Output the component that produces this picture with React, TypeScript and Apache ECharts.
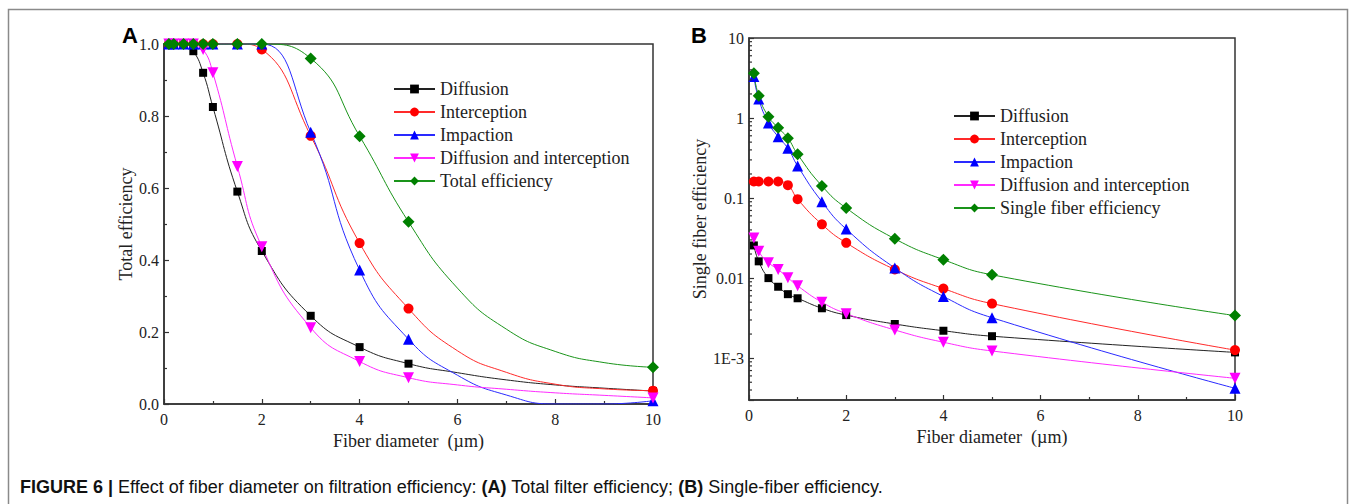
import React, { useEffect, useRef } from 'react';
import * as echarts from 'echarts';

// ---- data ----
const xPts = [0.1, 0.2, 0.4, 0.6, 0.8, 1, 1.5, 2, 3, 4, 5, 10];
// extra points (panel A) between 5 and 10 µm
const xCurveExtra = [6, 7, 8, 9];

// Panel A: total efficiency
const diffA = [1.0, 1.0, 1.0, 0.98, 0.92, 0.825, 0.59, 0.425, 0.245, 0.158, 0.112, 0.036];
const interA = [1.0, 1.0, 1.0, 1.0, 1.0, 1.0, 1.0, 0.985, 0.745, 0.447, 0.265, 0.037];
const impA = [1.0, 1.0, 1.0, 1.0, 1.0, 1.0, 1.0, 1.0, 0.755, 0.372, 0.18, 0.009];
const diInA = [1.0, 1.0, 1.0, 1.0, 0.985, 0.92, 0.66, 0.437, 0.212, 0.118, 0.073, 0.017];
const totalA = [1.0, 1.0, 1.0, 1.0, 1.0, 1.0, 1.0, 1.0, 0.96, 0.744, 0.506, 0.102];

const diffACurve = [0.087, 0.067, 0.053, 0.044];
const interACurve = [0.148, 0.088, 0.055, 0.042];
const impACurve = [0.08, 0.025, 0.0, 0.0];
const diInACurve = [0.053, 0.041, 0.031, 0.024];
const totalACurve = [0.322, 0.208, 0.146, 0.115];

// Panel B: single fiber efficiency (log scale)
const diffB = [0.0256, 0.0162, 0.01, 0.0078, 0.0063, 0.0056, 0.0042, 0.00345, 0.00267, 0.0022, 0.00188, 0.00118];
const interB = [0.161, 0.161, 0.161, 0.161, 0.145, 0.097, 0.047, 0.0276, 0.0128, 0.0074, 0.0048, 0.00126];
const impB = [3.3, 1.73, 0.87, 0.583, 0.418, 0.252, 0.09, 0.041, 0.0134, 0.0059, 0.0032, 0.00042];
const diInB = [0.0316, 0.0216, 0.0156, 0.0128, 0.0101, 0.008, 0.005, 0.0036, 0.00225, 0.00158, 0.00123, 0.00056];
const singleB = [3.64, 1.9, 1.04, 0.755, 0.561, 0.352, 0.142, 0.075, 0.031, 0.017, 0.011, 0.0034];

const namesA = ['Diffusion', 'Interception', 'Impaction', 'Diffusion and interception', 'Total efficiency'];
const namesB = ['Diffusion', 'Interception', 'Impaction', 'Diffusion and interception', 'Single fiber efficiency'];

const yTicksALabels = ['0.0', '0.2', '0.4', '0.6', '0.8', '1.0'];
const xTicksLabels = ['0', '2', '4', '6', '8', '10'];

const bMinMax = [0.0003, 10];

// ---- styles ----
const SERIF = "'Liberation Serif', 'Times New Roman', serif";
const SANS = "'Liberation Sans', Arial, sans-serif";
const styles = [
  { color: '#000000', line: '#222222', symbol: 'rect', size: 8, rotate: 0 },
  { color: '#ff0000', line: '#ff2a2a', symbol: 'circle', size: 10, rotate: 0 },
  { color: '#0000ff', line: '#2a2aff', symbol: 'triangle', size: 11, rotate: 0 },
  { color: '#ff00ff', line: '#ff2aff', symbol: 'triangle', size: 11, rotate: 180 },
  { color: '#008000', line: '#1a941a', symbol: 'diamond', size: 12, rotate: 0 },
];

function pairs(xs: number[], ys: number[]) {
  return xs.map((x, i) => [x, ys[i]]);
}
function mergeCurve(xs: number[], ys: number[], cx: number[], cy: number[]) {
  return pairs(xs, ys).concat(pairs(cx, cy)).sort((a, b) => a[0] - b[0]);
}

function buildSeries(names: string[], markers: number[][], curves: number[][][], gi: number) {
  const lines = names.map((n, i) => ({
    type: 'line',
    name: n,
    xAxisIndex: gi,
    yAxisIndex: gi,
    data: curves[i],
    smooth: 0.5,
    showSymbol: false,
    symbol: styles[i].symbol,
    symbolRotate: styles[i].rotate,
    symbolSize: styles[i].size,
    itemStyle: { color: styles[i].color },
    lineStyle: { color: styles[i].line, width: 1 },
    silent: true,
    clip: true,
    z: 2,
  }));
  const pts = names.map((n, i) => ({
    type: 'scatter',
    name: n,
    xAxisIndex: gi,
    yAxisIndex: gi,
    data: pairs(xPts, markers[i]),
    symbol: styles[i].symbol,
    symbolRotate: styles[i].rotate,
    symbolSize: styles[i].size,
    itemStyle: { color: styles[i].color, opacity: 1 },
    silent: true,
    z: 3,
  }));
  return [...lines, ...pts];
}

function minorLogValues() {
  const out: number[] = [];
  for (let d = -4; d <= 0; d++) {
    for (let k = 2; k <= 9; k++) {
      const v = k * Math.pow(10, d);
      if (v > bMinMax[0] * 1.01 && v < bMinMax[1]) out.push(v);
    }
  }
  return out;
}

const axisLineStyle = { lineStyle: { color: '#333', width: 1.5 } };

function xAxis(gi: number) {
  return {
    type: 'value',
    gridIndex: gi,
    min: 0,
    max: 10,
    interval: 2,
    name: 'Fiber diameter  (\u00b5m)',
    nameLocation: 'middle',
    nameGap: 22,
    nameTextStyle: { fontFamily: SERIF, fontSize: 18, color: '#222' },
    axisLine: axisLineStyle,
    axisTick: { inside: true, length: 5, lineStyle: { color: '#333', width: 1.2 } },
    minorTick: { show: true, splitNumber: 2, length: 3, lineStyle: { color: '#333', width: 1.2 } },
    splitLine: { show: false },
    minorSplitLine: { show: false },
    axisLabel: {
      fontFamily: SERIF,
      fontSize: 16,
      color: '#222',
      margin: 7,
      formatter: (v: number) => xTicksLabels[Math.round(v / 2)] ?? String(v),
    },
  };
}

export default function App() {
  const ref = useRef<HTMLDivElement>(null);
  useEffect(() => {
    if (!ref.current) return;
    const chart = echarts.init(ref.current, null, { renderer: 'svg' });

    const curvesA = [
      mergeCurve(xPts, diffA, xCurveExtra, diffACurve),
      mergeCurve(xPts, interA, xCurveExtra, interACurve),
      mergeCurve(xPts, impA, xCurveExtra, impACurve),
      mergeCurve(xPts, diInA, xCurveExtra, diInACurve),
      mergeCurve(xPts, totalA, xCurveExtra, totalACurve),
    ];
    const marksB = [diffB, interB, impB, diInB, singleB];
    const curvesB = marksB.map((m) => pairs(xPts, m));

    const seriesA = buildSeries(namesA, [diffA, interA, impA, diInA, totalA], curvesA, 0);
    const seriesB = buildSeries(namesB, marksB, curvesB, 1);

    const minorSeries = {
      type: 'custom',
      xAxisIndex: 1,
      yAxisIndex: 1,
      silent: true,
      data: minorLogValues().map((v) => [0, v]),
      renderItem: (params: any, api: any) => {
        const p = api.coord([0, api.value(1)]);
        return {
          type: 'line',
          shape: { x1: p[0], y1: p[1], x2: p[0] + 3, y2: p[1] },
          style: { stroke: '#333', lineWidth: 1.2 },
        };
      },
      z: 4,
    };

    const legendCommon = {
      orient: 'vertical',
      itemWidth: 41,
      itemHeight: 11,
      itemGap: 5,
      padding: 0,
      selectedMode: false,
      textStyle: { fontFamily: SERIF, fontSize: 18, color: '#222', lineHeight: 18 },
    };

    const option: any = {
      animation: false,
      backgroundColor: '#ffffff',
      grid: [
        { left: 164, top: 44, width: 489, height: 360, show: true, borderColor: '#333', borderWidth: 1.5, backgroundColor: 'transparent', outerBoundsMode: 'none', containLabel: false },
        { left: 749, top: 38, width: 486, height: 362, show: true, borderColor: '#333', borderWidth: 1.5, backgroundColor: 'transparent', outerBoundsMode: 'none', containLabel: false },
      ],
      xAxis: [xAxis(0), xAxis(1)],
      yAxis: [
        {
          type: 'value',
          gridIndex: 0,
          min: 0,
          max: 1,
          interval: 0.2,
          name: 'Total efficiency',
          nameLocation: 'middle',
          nameGap: 27,
          nameTextStyle: { fontFamily: SERIF, fontSize: 18, color: '#222' },
          axisLine: { show: true, ...axisLineStyle },
          axisTick: { inside: true, length: 5, lineStyle: { color: '#333', width: 1.2 } },
          minorTick: { show: true, splitNumber: 2, length: 3, lineStyle: { color: '#333', width: 1.2 } },
          splitLine: { show: false },
          minorSplitLine: { show: false },
          axisLabel: {
            fontFamily: SERIF,
            fontSize: 16,
            color: '#222',
            margin: 5,
            formatter: (v: number) => yTicksALabels[Math.round(v / 0.2)] ?? v.toFixed(1),
          },
        },
        {
          type: 'log',
          gridIndex: 1,
          min: bMinMax[0],
          max: bMinMax[1],
          logBase: 10,
          name: 'Single fiber efficiency',
          nameLocation: 'middle',
          nameGap: 31,
          nameTextStyle: { fontFamily: SERIF, fontSize: 18, color: '#222' },
          axisLine: { show: true, ...axisLineStyle },
          axisTick: { inside: true, length: 5, lineStyle: { color: '#333', width: 1.2 } },
          minorTick: { show: false },
          splitLine: { show: false },
          minorSplitLine: { show: false },
          axisLabel: {
            fontFamily: SERIF,
            fontSize: 16,
            color: '#222',
            margin: 5,
            showMinLabel: true,
            formatter: (v: number) => {
              if (v < 0.0009) return '';
              if (v < 0.005) return '1E-3';
              if (v < 0.05) return '0.01';
              if (v < 0.5) return '0.1';
              if (v < 5) return '1';
              return '10';
            },
          },
        },
      ],
      legend: [
        { ...legendCommon, left: 393, top: 80, data: namesA },
        { ...legendCommon, left: 953, top: 107, data: namesB },
      ],
      graphic: [
        {
          type: 'rect',
          silent: true,
          shape: { x: 8.5, y: 9.5, width: 1339, height: 520 },
          style: { fill: 'none', stroke: '#8a8a8a', lineWidth: 1.5 },
          z: 0,
        },
        {
          type: 'text',
          x: 122,
          y: 35,
          silent: true,
          style: { text: 'A', fontFamily: SANS, fontWeight: 'bold', fontSize: 22, fill: '#000', verticalAlign: 'middle' },
        },
        {
          type: 'text',
          x: 691,
          y: 35,
          silent: true,
          style: { text: 'B', fontFamily: SANS, fontWeight: 'bold', fontSize: 22, fill: '#000', verticalAlign: 'middle' },
        },
        {
          type: 'text',
          x: 20,
          y: 487,
          silent: true,
          style: {
            text:
              '{b|FIGURE 6 | }{n|Effect of fiber diameter on filtration efficiency: }{b|(A)}{n| Total filter efficiency; }{b|(B)}{n| Single-fiber efficiency.}',
            verticalAlign: 'middle',
            rich: {
              b: { fontFamily: SANS, fontWeight: 'bold', fontSize: 18, fill: '#111' },
              n: { fontFamily: SANS, fontSize: 18, fill: '#111' },
            },
          },
        },
      ],
      series: [...seriesA, ...seriesB, minorSeries],
    };

    chart.setOption(option);
    return () => chart.dispose();
  }, []);

  return (
    <div
      ref={ref}
      style={{ position: 'fixed', left: 0, top: 0, width: 1356, height: 504, background: '#fff' }}
    />
  );
}
